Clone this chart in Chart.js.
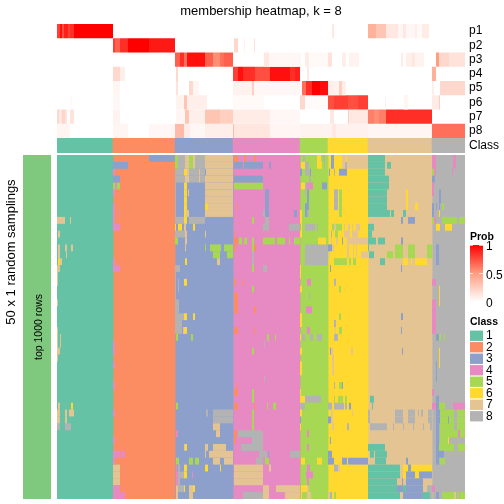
<!DOCTYPE html>
<html><head><meta charset="utf-8">
<style>
html,body{margin:0;padding:0;background:#fff;width:504px;height:504px;overflow:hidden;font-family:"Liberation Sans",Arial,sans-serif}
canvas{position:absolute;display:block}
.t{position:absolute;white-space:nowrap;color:#000}
.r{transform:translate(-50%,-50%) rotate(-90deg)}
</style>
<script src="https://cdn.jsdelivr.net/npm/chart.js@4"></script>
</head><body>
<canvas id="cHeat" width="504" height="138" style="left:0px;top:0px"></canvas>
<canvas id="cClass" width="504" height="15" style="left:0px;top:138px"></canvas>
<canvas id="cBody" width="504" height="344" style="left:0px;top:155px"></canvas>
<canvas id="cSide" width="51" height="344" style="left:0px;top:155px"></canvas>
<canvas id="cProb" width="34" height="76" style="left:470px;top:235px"></canvas>
<canvas id="cLegend" width="34" height="92" style="left:470px;top:330px"></canvas>
<div class="t" style="left:10px;top:252px;font-size:13px" id="tSamp"></div>
<div class="t" style="left:38px;top:327px;font-size:10.5px" id="tRows"></div>
<div class="t" style="left:470px;top:230px;font-size:10.5px;font-weight:bold" id="tProb"></div>
<div class="t" style="left:470px;top:315px;font-size:10.5px;font-weight:bold" id="tClass"></div>
<script>
const titleText = "membership heatmap, k = 8";
const sampText = "50 x 1 random samplings";
const rowsText = "top 1000 rows";
const classColors = ["#66C2A5","#FC8D62","#8DA0CB","#E78AC3","#A6D854","#FFD92F","#E5C494","#B3B3B3"];
const classLabels = ["1","2","3","4","5","6","7","8"];
const classStarts = [0,56,118,176,243,271,311,375,408];
const heatLabels = ["p1","p2","p3","p4","p5","p6","p7","p8"];

// membership runs: [first column, end column, probability]
const heatP1 = [[0,3,.8],[3,5,.95],[5,7,.75],[7,11,.9],[11,13,.8],[13,17,.85],[17,56,1],[275,277,.12],[311,319,.4],[319,329,.3],[329,341,.12],[341,346,.05],[346,349,.12],[349,358,.04],[358,360,.08],[360,365,.03],[365,372,.1]];
const heatP2 = [[56,58,.8],[58,63,.7],[63,71,.85],[71,92,1],[92,118,.92],[177,181,.2],[187,188,.06],[197,198,.15]];
const heatP3 = [[118,123,.7],[123,127,.85],[127,130,.65],[130,148,.95],[148,156,.7],[156,163,.55],[163,167,.65],[167,176,.7],[207,212,.12],[212,244,.04],[248,252,.1],[252,271,.03],[271,275,.15],[285,289,.08],[292,302,.06],[344,346,.1],[349,355,.08],[355,358,.12],[358,367,.06],[379,382,.5],[382,392,.2],[392,408,.15]];
const heatP4 = [[56,63,.2],[63,68,.08],[119,121,.2],[176,181,.8],[181,186,.95],[186,198,.85],[198,213,.75],[213,233,.95],[233,238,.85],[238,243,.9],[250,252,.12],[375,379,.4]];
const heatP5 = [[56,63,.05],[119,121,.15],[132,136,.2],[136,142,.05],[176,195,.07],[195,197,.25],[197,243,.04],[245,249,.65],[249,255,.85],[255,263,1],[263,271,.95],[271,277,.08],[277,282,.06],[282,285,.25],[285,289,.08],[375,377,.08],[383,408,.2]];
const heatP6 = [[13,15,.03],[56,63,.04],[119,127,.06],[127,130,.3],[130,150,.08],[176,207,.03],[243,248,.2],[248,271,.02],[271,277,.75],[277,291,.8],[291,301,.75],[301,311,.8],[328,329,.06],[347,351,.05],[375,382,.1],[382,383,.25]];
const heatP7 = [[0,2,.2],[2,5,.12],[5,8,.22],[8,10,.15],[13,17,.15],[56,63,.06],[119,128,.05],[128,132,.3],[132,148,.08],[148,163,.3],[163,176,.25],[176,213,.1],[213,243,.04],[273,277,.12],[291,292,.25],[292,311,.12],[311,317,.6],[317,322,.55],[322,329,.6],[329,375,.85]];
const heatP8 = [[0,13,.05],[56,71,.05],[92,118,.04],[118,127,.35],[127,133,.1],[133,148,.04],[148,176,.08],[176,177,.35],[177,213,.13],[213,243,.05],[243,275,.06],[275,279,.12],[279,311,.07],[311,375,.05],[375,408,.65]];

// sampling cells that differ from the column's class: [row, class, first column, end column]
const cellsA = [[9,7,0,8],[9,7,13,14],[11,7,1,3],[13,7,1,3],[13,7,8,10],[13,7,14,16],[14,7,1,3],[14,7,9,10],[15,6,1,3],[15,7,3,5],[16,7,0,3],[17,7,0,1],[18,7,0,1],[21,7,0,1],[25,7,0,1],[26,7,0,1],[26,7,3,4],[27,7,0,1],[27,7,3,4],[28,7,0,3],[29,7,0,1],[36,7,1,3],[36,6,14,16],[37,7,0,3],[37,7,8,10],[37,7,12,17],[38,7,0,3],[38,7,8,10],[39,8,0,3],[39,8,8,14]];
const cellsB = [[0,3,92,118],[1,3,56,71],[2,4,56,58],[3,3,56,63],[4,5,56,58],[4,4,58,60],[4,5,60,63],[5,4,56,58],[7,4,56,58],[8,4,56,58],[8,4,62,63],[9,4,56,58],[10,4,56,63],[15,4,56,58],[16,4,56,63],[27,4,56,58],[28,4,56,58],[30,4,56,58],[33,4,56,58],[37,4,56,58],[41,4,56,58],[43,4,56,63],[43,4,64,68],[44,4,56,58],[45,7,56,63],[46,7,56,63],[47,7,56,63],[48,4,56,63],[49,4,56,68]];
const cellsC = [[0,5,118,121],[0,8,121,128],[0,7,128,132],[0,5,132,136],[0,7,136,138],[0,8,138,148],[0,7,148,176],[1,5,118,121],[1,8,121,128],[1,7,128,132],[1,5,132,136],[1,7,136,138],[1,8,138,148],[1,7,148,176],[2,8,118,127],[2,6,127,130],[2,7,130,132],[2,8,132,142],[2,7,142,143],[2,8,143,148],[2,7,149,176],[3,8,118,128],[3,7,128,132],[3,8,132,142],[3,7,142,143],[3,8,143,148],[3,7,148,176],[4,8,118,119],[4,6,127,130],[4,7,148,176],[5,8,118,119],[5,6,127,130],[5,7,131,132],[5,7,148,176],[6,8,118,119],[6,6,127,130],[6,7,148,176],[7,8,118,119],[7,6,127,130],[7,6,148,151],[7,7,151,176],[8,8,118,119],[8,6,127,129],[8,7,129,132],[8,7,148,176],[9,8,118,127],[9,6,127,130],[9,8,132,148],[10,6,118,119],[10,6,121,125],[10,7,127,129],[10,6,136,138],[11,8,118,128],[11,7,128,130],[11,7,148,149],[12,5,118,121],[12,7,128,130],[13,7,128,129],[13,5,148,149],[13,5,153,164],[13,5,167,176],[14,5,156,163],[14,5,170,176],[15,6,128,130],[15,7,160,163],[16,8,118,123],[17,8,118,119],[18,8,118,119],[18,8,121,122],[18,6,127,130],[19,8,118,119],[19,8,121,122],[20,8,118,119],[21,8,118,122],[22,8,118,122],[23,8,118,127],[23,6,127,130],[23,6,136,138],[24,8,118,125],[25,8,118,125],[25,7,126,127],[25,6,127,130],[26,5,119,121],[26,5,134,136],[36,5,119,121],[37,8,149,151],[37,8,156,176],[38,8,156,176],[39,7,156,163],[40,4,119,121],[40,7,159,163],[42,7,127,128],[42,6,128,130],[42,7,148,151],[42,7,156,169],[43,7,148,149],[43,7,152,176],[44,5,119,122],[44,5,132,136],[44,5,138,142],[44,7,156,163],[44,7,167,176],[45,4,119,120],[45,8,121,123],[45,6,127,130],[45,6,148,151],[45,6,163,164],[46,4,119,121],[46,8,121,127],[46,6,127,130],[46,4,135,136],[47,4,119,121],[47,8,121,123],[48,7,119,121],[48,8,121,127],[48,6,127,128],[48,7,132,136],[48,6,136,138],[49,7,119,121],[49,7,132,136]];
const cellsD = [[0,2,177,181],[0,2,187,189],[0,2,197,199],[1,3,177,186],[1,3,187,206],[1,3,212,214],[3,3,177,206],[4,5,177,206],[5,3,208,212],[6,3,208,212],[7,3,208,212],[7,2,180,181],[8,8,206,208],[8,3,208,212],[8,3,237,240],[9,5,195,197],[9,8,208,212],[10,8,206,212],[10,8,232,243],[11,2,177,178],[12,2,177,181],[12,5,182,185],[12,5,187,190],[12,5,195,197],[12,5,206,218],[12,5,220,228],[12,5,232,233],[12,5,237,243],[13,2,177,179],[13,5,195,197],[13,2,197,199],[14,8,195,197],[15,8,195,197],[16,5,195,197],[16,8,206,210],[18,2,177,179],[18,2,186,187],[19,5,195,197],[20,2,177,181],[21,2,177,181],[22,2,177,181],[22,2,197,199],[25,2,177,181],[25,2,197,198],[26,5,210,212],[26,5,218,219],[27,8,207,208],[28,5,195,197],[32,8,207,208],[33,2,180,181],[34,2,177,181],[34,5,195,197],[35,5,195,197],[36,2,177,181],[36,2,197,198],[36,5,210,211],[36,5,216,219],[37,5,195,197],[38,5,195,197],[39,5,195,197],[40,2,177,180],[40,8,181,206],[41,2,177,179],[41,8,195,206],[42,8,184,206],[43,8,202,210],[43,3,211,212],[43,8,233,243],[44,8,199,206],[44,5,208,212],[45,7,177,206],[45,7,212,214],[46,7,177,206],[47,7,177,206],[48,7,206,212],[48,7,219,243],[49,8,186,206],[49,7,206,212],[49,7,228,243]];
const cellsE = [[0,8,246,248],[0,6,260,264],[0,8,266,268],[1,6,244,248],[1,8,248,252],[1,6,260,265],[1,8,267,268],[2,3,243,245],[2,8,248,253],[2,3,253,254],[3,8,252,254],[4,6,244,248],[4,8,248,250],[4,4,250,256],[4,3,265,270],[5,8,248,249],[5,3,250,252],[6,3,250,252],[7,3,248,252],[8,6,243,245],[8,3,248,250],[8,8,250,252],[9,6,243,245],[10,6,244,245],[10,8,248,258],[10,8,260,261],[11,6,243,245],[12,6,261,269],[13,8,248,271],[14,8,248,271],[15,8,248,271],[16,6,243,244],[17,6,243,244],[18,4,250,254],[19,6,243,245],[20,8,252,253],[22,4,249,255],[23,6,243,245],[24,6,243,245],[25,4,250,253],[26,6,243,244],[26,8,245,248],[26,8,253,256],[26,8,260,265],[28,6,243,245],[30,6,243,245],[31,6,243,245],[34,6,243,244],[35,6,243,248],[35,8,248,264],[36,8,243,248],[37,6,243,245],[38,3,243,244],[39,6,243,244],[40,4,250,252],[42,4,250,252],[44,6,244,248],[44,6,260,265],[45,4,250,253],[46,4,249,256],[47,4,250,252],[48,6,244,250],[48,7,250,252],[49,6,244,245],[49,7,250,254]];
const cellsF = [[0,3,274,277],[0,7,285,289],[0,7,290,311],[1,3,274,277],[1,7,285,288],[1,8,288,290],[1,7,290,311],[2,3,272,273],[2,8,277,278],[2,3,282,290],[5,8,277,281],[5,5,282,285],[6,8,277,281],[6,5,282,285],[7,8,277,281],[7,5,282,285],[8,5,282,285],[10,5,275,277],[10,7,277,279],[10,5,279,285],[10,7,287,288],[10,7,291,293],[10,7,295,296],[10,7,299,303],[11,8,274,275],[11,5,278,281],[11,7,287,293],[11,7,295,301],[12,7,274,275],[12,7,279,281],[12,3,285,286],[12,7,290,311],[13,3,271,275],[13,7,275,277],[13,7,290,292],[13,7,296,297],[13,7,299,300],[14,7,272,273],[14,7,290,292],[14,7,296,297],[14,7,299,300],[14,7,304,311],[15,5,277,290],[15,5,292,294],[15,5,296,299],[16,3,273,274],[18,8,277,279],[19,5,282,284],[23,5,282,284],[24,8,277,279],[25,7,278,279],[25,5,282,285],[26,8,277,281],[28,3,273,274],[28,7,274,276],[28,7,294,296],[29,7,275,277],[30,7,275,277],[31,7,275,277],[33,8,277,278],[33,5,282,285],[33,3,285,286],[35,5,277,278],[35,5,281,286],[35,5,288,290],[36,8,271,275],[36,8,277,287],[36,8,288,290],[36,3,292,294],[37,7,274,276],[37,7,295,296],[38,3,271,274],[38,7,274,276],[39,7,275,277],[39,8,290,292],[41,3,273,274],[43,3,271,275],[44,3,271,277],[44,3,285,290],[44,3,291,311],[45,8,277,281],[45,7,281,283],[49,7,271,273],[49,8,273,275],[49,5,277,279]];
const cellsG = [[0,1,311,328],[1,1,311,328],[1,1,330,334],[2,1,311,328],[3,1,311,332],[4,1,311,332],[5,1,311,330],[5,6,349,351],[6,1,311,330],[6,6,349,351],[7,1,311,330],[7,6,328,329],[7,6,349,351],[7,6,358,361],[8,1,311,333],[8,1,334,337],[8,1,346,349],[9,3,344,346],[9,3,351,358],[10,1,311,317],[11,1,311,315],[12,1,311,319],[12,1,321,328],[12,3,344,346],[13,1,311,312],[13,5,338,346],[13,5,351,358],[13,5,370,375],[14,1,312,317],[14,5,330,336],[14,5,338,346],[14,5,351,358],[14,5,370,375],[15,1,323,328],[15,6,346,351],[15,6,354,355],[15,6,358,370],[16,3,344,345],[23,3,344,346],[25,3,344,345],[28,3,345,346],[35,1,313,317],[36,1,315,316],[37,8,311,313],[37,8,338,346],[37,8,351,358],[37,8,361,362],[37,8,364,366],[37,8,371,375],[38,8,311,313],[38,8,338,346],[38,8,351,358],[38,8,371,375],[39,8,313,330],[39,8,336,337],[39,8,346,347],[39,8,356,357],[39,8,366,367],[39,8,373,375],[42,1,311,328],[43,1,313,317],[43,1,318,330],[44,1,318,329],[44,3,349,351],[45,1,311,343],[45,6,346,351],[45,3,351,354],[45,6,354,375],[46,1,311,343],[46,6,346,349],[46,3,349,358],[46,6,358,362],[46,3,362,375],[47,1,311,340],[47,3,345,346],[47,3,349,366],[48,1,311,340],[48,3,340,346],[48,1,346,349],[48,3,349,366],[48,8,370,375],[49,1,311,343],[49,3,346,366],[49,1,366,373],[49,8,373,375]];
const cellsH = [[0,4,375,379],[0,4,396,399],[1,4,375,379],[1,4,396,399],[2,5,375,377],[2,4,377,379],[2,4,395,396],[3,3,375,378],[4,4,375,377],[5,4,375,377],[5,3,382,384],[6,3,382,384],[7,3,375,377],[7,3,379,380],[7,3,382,383],[7,5,385,387],[8,3,375,377],[8,6,382,383],[9,5,375,377],[9,4,377,379],[9,5,385,400],[9,5,402,408],[10,6,379,383],[10,6,388,395],[13,3,379,382],[14,3,379,382],[15,3,379,382],[18,4,375,379],[19,6,382,383],[20,6,382,383],[21,6,382,383],[21,4,375,379],[22,4,375,379],[23,4,375,379],[24,4,375,379],[25,4,375,379],[26,3,379,382],[26,5,382,384],[26,5,387,388],[28,6,382,383],[29,6,382,383],[30,6,382,383],[30,3,379,380],[31,3,379,380],[32,3,379,380],[34,4,375,377],[35,3,379,382],[36,4,375,379],[36,3,379,382],[36,5,382,388],[36,4,396,408],[37,3,379,383],[37,5,383,397],[37,5,400,408],[38,3,379,383],[38,5,383,391],[38,3,391,392],[38,5,392,397],[38,5,400,408],[39,3,379,382],[39,5,383,397],[39,5,400,408],[40,3,379,382],[40,5,383,401],[40,4,401,403],[40,5,403,408],[41,3,379,382],[41,5,383,391],[41,6,391,392],[42,3,379,382],[42,5,382,397],[42,5,401,408],[43,3,379,387],[44,3,379,382],[44,5,383,388],[48,4,375,378],[49,3,379,382],[49,5,385,397],[49,7,397,399],[49,5,400,402],[49,5,403,408]];

Chart.defaults.font.family = '"Liberation Sans",Arial,sans-serif';
Chart.defaults.color = "#000";
Chart.defaults.animation = false;
Chart.defaults.responsive = false;
Chart.defaults.devicePixelRatio = 1;
Chart.defaults.plugins.legend.display = false;
Chart.defaults.plugins.tooltip.enabled = false;

document.getElementById("tSamp").textContent = sampText;
document.getElementById("tSamp").classList.add("r");
document.getElementById("tRows").textContent = rowsText;
document.getElementById("tRows").classList.add("r");
document.getElementById("tProb").textContent = "Prob";
document.getElementById("tClass").textContent = "Class";

function probColor(v){
  const g = v<.5 ? 255-(255-158)*v*2 : 158-158*(v-.5)*2;
  const b = v<.5 ? 255-(255-129)*v*2 : 129-129*(v-.5)*2;
  return `rgb(255,${Math.round(g)},${Math.round(b)})`;
}
const xHidden = {type:"linear",min:0,max:408,display:false};
const padX = {left:57,right:39};
const barOpts = {grouped:false,barPercentage:1,categoryPercentage:1,borderWidth:0};
const fitRight = w => function(s){s.width=w;s.paddingTop=0;s.paddingBottom=0};
const rightAxis = labels => ({type:"category",labels,position:"right",
  grid:{display:false,drawTicks:false},border:{display:false},
  ticks:{padding:4,font:{size:12},autoSkip:false,maxRotation:0},
  afterFit:fitRight(39)});

// p1..p8 heatmap
const heatSets = [heatP1,heatP2,heatP3,heatP4,heatP5,heatP6,heatP7,heatP8].map((runs,i)=>({
  ...barOpts,inflateAmount:0,
  data:runs.map(r=>({x:[r[0],r[1]],y:heatLabels[i]})),
  backgroundColor:runs.map(r=>probColor(r[2]))
}));
new Chart(document.getElementById("cHeat"),{type:"bar",
  data:{labels:heatLabels,datasets:heatSets},
  options:{indexAxis:"y",layout:{padding:{left:57,right:0,top:0,bottom:0}},
    plugins:{title:{display:true,fullSize:false,text:titleText,font:{size:13,weight:"normal",lineHeight:1.2},padding:{top:4,bottom:4.4}}},
    scales:{x:xHidden,y:rightAxis(heatLabels)}}
});

// class strip
new Chart(document.getElementById("cClass"),{type:"bar",
  data:{labels:["Class"],datasets:[{...barOpts,
    data:classColors.map((c,i)=>({x:[classStarts[i],classStarts[i+1]],y:"Class"})),
    backgroundColor:classColors}]},
  options:{indexAxis:"y",layout:{padding:{left:57,right:0,top:0,bottom:0}},
    scales:{x:xHidden,y:rightAxis(["Class"])}}
});

// sampling body
const rowLabels = Array.from({length:50},(_,i)=>"r"+i);
const allCells = [...cellsA,...cellsB,...cellsC,...cellsD,...cellsE,...cellsF,...cellsG,...cellsH];
const overrideSets = classColors.map((c,i)=>({...barOpts,inflateAmount:0,backgroundColor:c,
  data:allCells.filter(e=>e[1]===i+1).map(e=>({x:[e[2],e[3]],y:rowLabels[e[0]]}))}));
const baseSets = classColors.map((c,i)=>({...barOpts,inflateAmount:0.4,backgroundColor:c,
  data:rowLabels.map(y=>({x:[classStarts[i],classStarts[i+1]],y}))}));
new Chart(document.getElementById("cBody"),{type:"bar",
  data:{labels:rowLabels,datasets:[...overrideSets,...baseSets]},
  options:{indexAxis:"y",layout:{padding:{...padX,top:0,bottom:0}},
    scales:{x:xHidden,y:{type:"category",labels:rowLabels,display:false}}}
});

// left annotation
new Chart(document.getElementById("cSide"),{type:"bar",
  data:{labels:["top"],datasets:[{...barOpts,data:[1],backgroundColor:"#7FC97F"}]},
  options:{layout:{padding:{left:23,right:0,top:0,bottom:0}},
    scales:{x:{display:false},y:{min:0,max:1,display:false}}}
});

// probability colour bar
new Chart(document.getElementById("cProb"),{type:"bar",
  data:{labels:["Prob"],datasets:[{...barOpts,data:[[0,1]],
    backgroundColor(ctx){
      const a = ctx.chart.chartArea; if(!a) return "#fff";
      const g = ctx.chart.ctx.createLinearGradient(0,a.bottom,0,a.top);
      [0,.1,.2,.3,.4,.5,.6,.7,.8,.9,1].forEach(v=>g.addColorStop(v,probColor(v)));
      return g;
    }}]},
  options:{layout:{padding:{top:10,bottom:9}},
    scales:{x:{display:false},
      y:{min:0,max:1,position:"right",
        grid:{display:true,color:"rgba(255,255,255,.7)",z:1,drawTicks:false,lineWidth:1},
        border:{display:false,dash:[3,6,4]},
        afterBuildTicks(s){s.ticks=[0,.5,1].map(value=>({value}))},
        afterFit:fitRight(21),
        ticks:{padding:3,font:{size:12},labelOffset:2,callback:v=>String(v)}}}}
});

// class legend
new Chart(document.getElementById("cLegend"),{type:"bar",
  data:{labels:classLabels,datasets:[{grouped:false,barPercentage:1,categoryPercentage:.9,borderWidth:0,
    data:classLabels.map(()=>1),backgroundColor:classColors}]},
  options:{indexAxis:"y",layout:{padding:0},
    scales:{x:{min:0,max:1,display:false},
      y:{position:"right",grid:{display:false,drawTicks:false},border:{display:false},
        afterFit:fitRight(21),ticks:{padding:3,font:{size:12},autoSkip:false}}}}
});
</script>
</body></html>
